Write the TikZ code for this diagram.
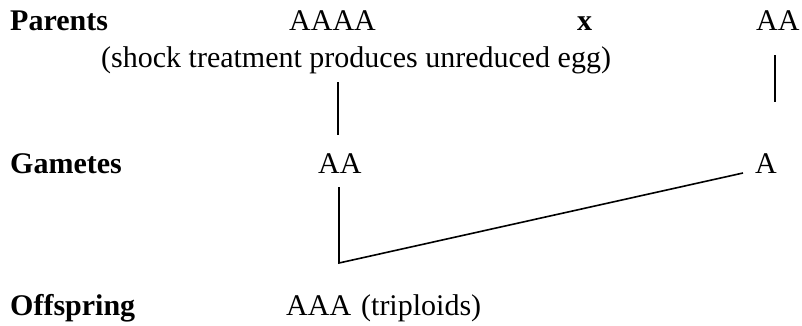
\documentclass[tikz,border=0pt]{standalone}
\usepackage{fontspec}
\setmainfont{Liberation Serif}
\begin{document}
\begin{tikzpicture}[x=1pt,y=-1pt,
  lbl/.style={anchor=base west,inner sep=0pt,font=\fontsize{30}{34}\selectfont},
  hdr/.style={lbl,font=\fontsize{30}{34}\selectfont\bfseries},
  conn/.style={line width=1.6pt}]
\useasboundingbox (0,0) rectangle (802,325);
\node[hdr] (parents) at (10,30) {Parents};
\node[lbl] (pAAAA) at (289,30) {AAAA};
\node[hdr] (cross) at (577,30) {x};
\node[lbl] (pAA) at (756,30) {AA};
\node[lbl] (shock) at (101,67) {(shock treatment produces unreduced egg)};
\node[hdr] (gametes) at (10,173) {Gametes};
\node[lbl] (gAA) at (318,173) {AA};
\node[lbl] (gA) at (755,173) {A};
\node[hdr] (offspring) at (10,315) {Offspring};
\node[lbl] (oAAA) at (286,315) {AAA\hspace{10pt}(triploids)};
\coordinate (s1) at (338,82);
\coordinate (s2) at (338,135);
\coordinate (r1) at (775,55);
\coordinate (r2) at (775,102);
\coordinate (g1) at (339,187);
\coordinate (g2) at (339,263);
\coordinate (g3) at (743,173);
\draw[conn] (s1) -- (s2);
\draw[conn] (r1) -- (r2);
\draw[conn] (g1) -- (g2) -- (g3);
\end{tikzpicture}
\end{document}
